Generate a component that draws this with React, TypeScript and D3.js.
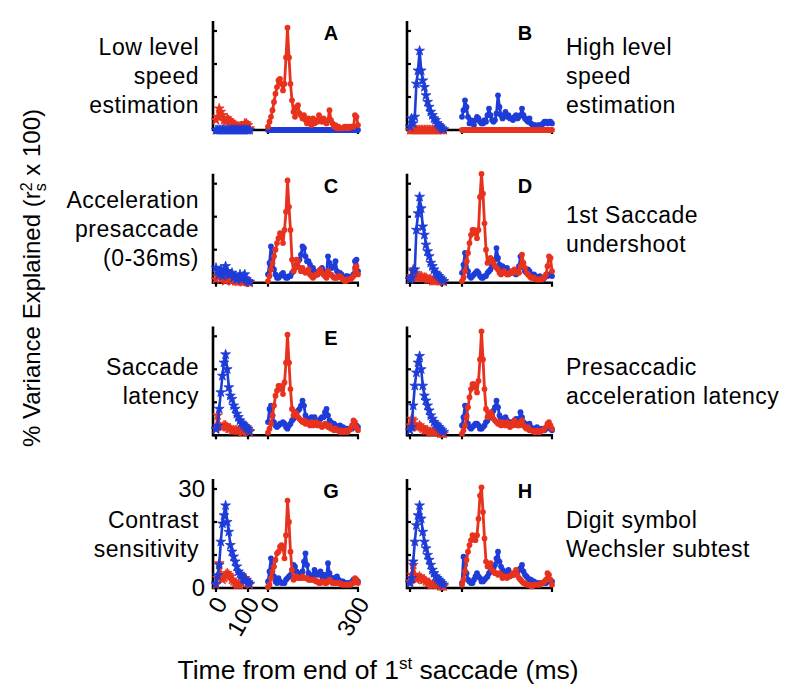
import React from 'react'
import * as d3 from 'd3'

// sample times (ms) of the two segments of every panel
const leftTimes = [0, 5, 10, 15, 20, 25, 30, 35, 40, 45, 50, 55, 60, 65, 70, 75, 80, 85, 90, 95, 100, 105]
const rightTimes = [
  0, 5, 10, 15, 20, 25, 30, 35, 40, 45,
  50, 55, 60, 65, 70, 75, 80, 85, 90, 95,
  100, 105, 110, 115, 120, 125, 130, 135, 140, 145,
  150, 155, 160, 165, 170, 175, 180, 185, 190, 195,
  200, 205, 210, 215, 220, 225, 230, 235, 240, 245,
  250, 255, 260, 265, 270, 275, 280, 285, 290, 295,
  300
]

const zeroStars = [0, 0, 0, 0, 0, 0, 0, 0, 0, 0, 0, 0, 0, 0, 0, 0, 0, 0, 0, 0, 0, 0]
const zeroDots = [
  0, 0, 0, 0, 0, 0, 0, 0, 0, 0,
  0, 0, 0, 0, 0, 0, 0, 0, 0, 0,
  0, 0, 0, 0, 0, 0, 0, 0, 0, 0,
  0, 0, 0, 0, 0, 0, 0, 0, 0, 0,
  0, 0, 0, 0, 0, 0, 0, 0, 0, 0,
  0, 0, 0, 0, 0, 0, 0, 0, 0, 0,
  0
]

// A
const redStarsA = [3, 4, 6.5, 5.5, 4.5, 3, 2.5, 3.5, 3, 2.5, 2, 1.8, 1.5, 1.2, 1, 1, 1.2, 1, 2, 2, 1.5, 0.5]
const redDotsA = [
  1, 2.5, 4, 6, 8.5, 11, 13, 15, 15.5, 14,
  12, 14, 22, 31, 22, 14, 9, 5.5, 4, 7,
  7.5, 5, 4.5, 3.5, 4.5, 3, 2, 3.5, 2.5, 1.5,
  3.5, 2, 3, 2.5, 4.5, 3, 2.5, 3.5, 2.5, 2,
  3, 6, 3, 2, 1, 1.5, 0.5, 1, 0.5, 0.5,
  0.5, 1, 0.5, 1, 0.5, 1, 1, 1, 4.5, 4,
  1.5
]

// B
const blueStarsB = [1, 3.5, 2, 4, 14, 18, 24, 18, 15, 13, 10.5, 8.5, 7, 5.5, 4.5, 3.5, 3, 2, 1.5, 1, 0.5, 0.2]
const blueDotsB = [
  4, 6, 9, 7, 4, 2, 3, 2, 1.5, 3,
  4, 3.5, 2.5, 2, 2, 3, 2.5, 4.5, 6.5, 4.5,
  3, 2.5, 3, 5, 10.5, 7, 4.5, 3.5, 4.5, 5.5,
  4, 4.5, 3.5, 3.5, 3, 4, 4.5, 3.5, 4, 4.5,
  6.5, 4.5, 3.5, 3, 2.5, 3.5, 2, 1.5, 1.5, 1.5,
  1, 1.5, 1.5, 1, 2, 2.5, 2.5, 2, 2.5, 2.5,
  2
]

// C
const redStarsC = [1, 2, 3.5, 2.5, 1.5, 1, 0.5, 1, 1.5, 1, 0.5, 1, 0.5, 0.5, 0.3, 0.5, 0.3, 0.2, 0.5, 0.3, 0.2, 0]
const blueStarsC = [4.5, 3.5, 2.5, 4, 2, 4, 5, 3.5, 2.5, 2.5, 3, 1.5, 2, 1, 1.5, 2.5, 1, 2, 2.5, 1, 0.5, 0.3]
const redDotsC = [
  0.5, 2, 4, 6, 8, 10, 12, 13.5, 15, 14.5,
  12, 16, 21.5, 31, 23, 16, 7, 3.5, 4.5, 7,
  6.5, 4.5, 3.5, 4.5, 3.5, 3, 3.5, 4, 2.5, 2,
  1.5, 2, 2.5, 2.5, 3.5, 4, 3, 2.5, 2, 1.5,
  3.5, 2.5, 2.5, 2, 1.5, 1.5, 1.5, 2, 2, 1.5,
  1, 0.5, 0.5, 1, 1, 1, 1.5, 2, 4.5, 5,
  2.5
]
const blueDotsC = [
  2.5, 6, 11, 7, 4, 2.5, 1.5, 1.5, 2, 2.5,
  3, 2, 1.5, 1.5, 2, 2, 3, 3.5, 4.5, 5.5,
  6.5, 7, 8.5, 11, 10.5, 8, 6.5, 6.5, 5.5, 3.5,
  4.5, 3.5, 2.5, 2.5, 3.5, 4, 4.5, 3.5, 3, 2.5,
  8, 6, 4.5, 4.5, 5, 6.5, 3.5, 2.5, 3, 2.5,
  1.5, 1.5, 2, 2, 1.5, 1.5, 2, 2.5, 6.5, 7,
  3.5
]

// D
const redStarsD = [1, 2, 4, 3, 1.5, 1.5, 2, 2, 1.5, 1.5, 1.5, 1, 1, 1, 0.5, 0.5, 0.5, 1, 1, 0.5, 0.5, 0.3]
const blueStarsD = [1, 1.5, 3.5, 4, 16, 21, 26, 22.5, 17, 14.5, 11.5, 9.5, 8, 6, 5, 4, 3, 2.5, 2, 1.5, 1, 0.5]
const redDotsD = [
  0.5, 1.5, 3.5, 6.5, 9, 12, 14.5, 16, 16, 15,
  13.5, 16, 26, 33, 27, 18, 10, 6, 6.5, 7.5,
  7, 6, 5, 4.5, 4, 3, 2.5, 3, 3.5, 3,
  2.5, 2.5, 3, 3.5, 3, 4, 3.5, 3, 3, 5,
  8.5, 6, 4.5, 3, 2.5, 2, 1.5, 1.5, 1.5, 1,
  1, 1, 1, 1, 1.5, 1.5, 2.5, 5, 8, 7.5,
  3.5
]
const blueDotsD = [
  3, 5.5, 9, 6.5, 3.5, 2, 1.5, 2, 2.5, 3,
  3.5, 3, 2, 1.5, 1.5, 2, 2, 3, 3.5, 4,
  5, 5.5, 7, 10.5, 7.5, 5.5, 4.5, 5, 4.5, 4,
  4.5, 3.5, 3, 3, 3.5, 3, 2.5, 3.5, 5, 8,
  6, 4.5, 3.5, 3, 4, 3.5, 2.5, 2, 2.5, 2,
  1.5, 1.5, 2, 1.5, 1, 1.5, 2, 2, 2.5, 2.5,
  2
]

// E
const redStarsE = [2, 6, 3, 2.5, 2.5, 3, 3, 2.5, 2, 2, 1.5, 1.5, 1.5, 1.5, 1.5, 1.5, 1, 1, 1.5, 2.5, 2, 1]
const blueStarsE = [1.8, 2.8, 8, 13, 18, 22, 24.5, 20, 14.5, 12, 11, 9, 8, 6.5, 5.5, 4.5, 3.8, 3.3, 2.8, 2.3, 1.8, 1.3]
const redDotsE = [
  0.8, 2, 3.5, 6, 9, 12, 13.5, 15, 15, 14,
  12.5, 16, 22, 30.5, 22, 14, 8, 6, 7, 6.5,
  5.5, 5, 4.5, 4, 4.5, 3.5, 4, 3.5, 3, 4,
  3, 3.5, 4, 3, 3.5, 3, 2.5, 3, 3.5, 3,
  2.5, 3, 2, 2, 1.5, 2, 1.5, 1.5, 1, 1.5,
  1, 1, 1.5, 1, 1.5, 2, 3, 4.5, 4, 2.5,
  1.5
]
const blueDotsE = [
  4, 8, 9, 6, 4, 3, 2.5, 3, 3.5, 3.5,
  4, 3.5, 2.5, 2, 3, 3.5, 4.5, 5, 6.5, 7,
  7.5, 8, 9, 10.5, 9, 6, 5, 5, 5, 5.5,
  5, 5.5, 4, 4, 4.5, 5, 5.5, 5.5, 7, 8,
  6, 4.5, 4, 3.5, 3.5, 3, 2.5, 2.5, 3, 2.5,
  2.5, 2, 2, 2, 2, 2, 2, 2.5, 3, 3,
  2.5
]

// F
const redStarsF = [3, 5, 4.5, 3, 2.5, 2.5, 3, 2.5, 2, 1.5, 1.5, 1.5, 1, 1, 1, 1, 1.5, 1.5, 1, 0.5, 0.5, 0.5]
const blueStarsF = [1.5, 2.5, 9, 15, 19, 22, 24, 20, 15, 12, 10.5, 9, 7.5, 6, 5, 4, 3.5, 3, 2.5, 2, 1.5, 1]
const redDotsF = [
  0.5, 1.5, 3, 5.5, 8.5, 11.5, 14, 15.5, 15.5, 14.5,
  13, 16.5, 23, 31.5, 23, 14, 8, 5.5, 6.5, 7,
  6, 5, 4.5, 4, 3.5, 4, 3, 4, 3.5, 3,
  4, 3, 2.5, 3.5, 3, 4.5, 3.5, 3, 3, 4,
  4.5, 3, 2.5, 2, 2.5, 1.5, 1.5, 1.5, 1, 1,
  1.5, 1, 1, 1.5, 1.5, 2, 2.5, 3.5, 4, 3,
  2
]
const blueDotsF = [
  3, 5.5, 9, 6, 3.5, 2.5, 2, 2.5, 3, 3.5,
  3.5, 3, 2, 2, 2.5, 3, 4, 4.5, 5.5, 6.5,
  6.5, 7.5, 8.5, 10.5, 8.5, 6, 5, 4.5, 5, 5.5,
  4.5, 4, 4, 3.5, 4, 4.5, 5, 4.5, 5, 7,
  5.5, 4, 3.5, 3, 3, 3.5, 2.5, 2, 2, 2,
  2.5, 1.5, 1.5, 2, 1.5, 1.5, 2, 2.5, 2.5, 2,
  1.5
]

// G
const redStarsG = [1, 3, 7.5, 4, 2.5, 3, 4, 4.5, 4, 3.5, 2.5, 2, 1.5, 1, 1, 1, 1.5, 2.5, 3, 2.5, 1.5, 1]
const blueStarsG = [1.3, 3.8, 7, 14, 19.5, 22, 25, 20, 17, 13, 11, 9.5, 8, 6.5, 5, 4.3, 3.8, 2.8, 2.5, 2.3, 1.8, 1.3]
const redDotsG = [
  0.3, 1, 3, 5, 6.5, 8.5, 10.5, 11, 12.5, 13,
  12, 9, 16, 26.5, 20, 11, 5.5, 2.5, 3, 3.5,
  3, 3, 3, 3.5, 3, 3, 3, 2.5, 2.5, 2.5,
  2.5, 2.5, 2, 2, 1.5, 1.5, 2, 2, 1.5, 1.5,
  2, 2.5, 2, 1.5, 1.5, 1.5, 1.5, 1.5, 1.5, 1,
  1, 1, 1, 1, 1, 1, 1.5, 1.5, 3, 2.5,
  1.5
]
const blueDotsG = [
  2, 5, 9, 6, 3.5, 2, 1.5, 3, 2, 1.5,
  1.5, 1.5, 2.5, 3, 3.5, 4, 5.5, 7, 6.5, 5,
  4.5, 4, 4, 5, 8, 10.5, 7, 4.5, 3.5, 3,
  4, 5.5, 4.5, 4, 4.5, 5, 3.5, 4, 4, 3,
  7.5, 4.5, 3, 3, 3, 3, 3.5, 2.5, 2, 2,
  2, 1.5, 1.5, 1.5, 1.5, 1.5, 2, 2.5, 2, 2,
  2
]

// H
const redStarsH = [2, 4, 7, 4, 2.5, 3, 3.5, 3, 2.5, 2.5, 2, 1.5, 1.5, 1, 1, 1, 1.5, 1, 1, 0.5, 0.5, 0.5]
const blueStarsH = [1.5, 3, 8, 14, 19, 22, 25, 21, 17, 14, 12, 10, 8.5, 7, 5.5, 4.5, 3.5, 3, 2.5, 2, 1.5, 1]
const redDotsH = [
  1, 2.5, 5, 8.5, 11, 13, 14.5, 16, 15.5, 14.5,
  16, 21, 28, 30.5, 23, 15, 8, 6.5, 7, 7.5,
  5.5, 5, 4.5, 4.5, 4, 4.5, 4, 3, 3.5, 3.5,
  3, 3.5, 3.5, 4, 4.5, 4, 5.5, 4, 3, 2.5,
  2, 1.5, 1.5, 1, 1, 1, 0.5, 0.5, 1, 1,
  1, 1, 1, 1.5, 1.5, 2, 2.5, 4.5, 4, 2.5,
  1
]
const blueDotsH = [
  1.5, 9.5, 7, 4.5, 2.5, 2, 1.5, 1.5, 2.5, 3.5,
  4.5, 3.5, 3, 2, 2, 2.5, 3, 3.5, 4.5, 5,
  5.5, 6, 7, 9, 11, 8, 6.5, 5.5, 5, 4.5,
  5, 5.5, 4.5, 4, 4, 4.5, 4.5, 5, 5.5, 6,
  7, 5, 4, 3.5, 3, 2.5, 2.5, 2, 2, 1.5,
  1.5, 1.5, 1.5, 1.5, 1.5, 1.5, 1.5, 2, 2, 2,
  2
]

const panelLetters = ['A', 'B', 'C', 'D', 'E', '', 'G', 'H']
const leftLabels = [
  ['Low level', 'speed', 'estimation'],
  ['Acceleration', 'presaccade', '(0-36ms)'],
  ['Saccade', 'latency'],
  ['Contrast', 'sensitivity']
]
const rightLabels = [
  ['High level', 'speed', 'estimation'],
  ['1st Saccade', 'undershoot'],
  ['Presaccadic', 'acceleration latency'],
  ['Digit symbol', 'Wechsler subtest']
]
const yTicks = [0, 10, 20, 30]
const yTickLabels = [0, 30]
const leftTicks = [0, 100]
const rightTicks = [0, 300]

const RED = '#e8321e'
const BLUE = '#1e3cd7'
const FONT = '"Liberation Sans", Arial, Helvetica, sans-serif'

const colX = [213, 407]
const rowY = [130, 282.7, 435.3, 588]

type PanelDef = {
  letter: string
  col: number
  row: number
  redStars: number[]
  blueStars: number[]
  redDots: number[]
  blueDots: number[]
}

const panels: PanelDef[] = [
  { letter: panelLetters[0], col: 0, row: 0, redStars: redStarsA, blueStars: zeroStars, redDots: redDotsA, blueDots: zeroDots },
  { letter: panelLetters[1], col: 1, row: 0, redStars: zeroStars, blueStars: blueStarsB, redDots: zeroDots, blueDots: blueDotsB },
  { letter: panelLetters[2], col: 0, row: 1, redStars: redStarsC, blueStars: blueStarsC, redDots: redDotsC, blueDots: blueDotsC },
  { letter: panelLetters[3], col: 1, row: 1, redStars: redStarsD, blueStars: blueStarsD, redDots: redDotsD, blueDots: blueDotsD },
  { letter: panelLetters[4], col: 0, row: 2, redStars: redStarsE, blueStars: blueStarsE, redDots: redDotsE, blueDots: blueDotsE },
  { letter: panelLetters[5], col: 1, row: 2, redStars: redStarsF, blueStars: blueStarsF, redDots: redDotsF, blueDots: blueDotsF },
  { letter: panelLetters[6], col: 0, row: 3, redStars: redStarsG, blueStars: blueStarsG, redDots: redDotsG, blueDots: blueDotsG },
  { letter: panelLetters[7], col: 1, row: 3, redStars: redStarsH, blueStars: blueStarsH, redDots: redDotsH, blueDots: blueDotsH }
]

const starPath = d3.symbol().type(d3.symbolStar).size(30)() || ''

const Panel = ({ p, withLabels }: { p: PanelDef; withLabels: boolean }) => {
  const ax = colX[p.col]
  const y0 = rowY[p.row]
  const y = d3.scaleLinear().domain([0, 30]).range([y0, y0 - 99])
  const xl = d3.scaleLinear().domain([0, 100]).range([ax + 3, ax + 35])
  const xr = d3.scaleLinear().domain([0, 300]).range([ax + 55, ax + 145])

  const lineL = d3.line<number>().x((_, i) => xl(leftTimes[i])).y(d => y(d))
  const lineR = d3.line<number>().x((_, i) => xr(rightTimes[i])).y(d => y(d))

  const stars = (vals: number[], color: string) => (
    <g>
      <path d={lineL(vals) || ''} fill='none' stroke={color} strokeWidth={2.6} strokeLinejoin='round' />
      {vals.map((v, i) => (
        <path key={i} d={starPath} transform={`translate(${xl(leftTimes[i])},${y(v)})`} fill={color} stroke={color} strokeWidth={0.8} />
      ))}
    </g>
  )
  const dots = (vals: number[], color: string) => (
    <g>
      <path d={lineR(vals) || ''} fill='none' stroke={color} strokeWidth={2.8} strokeLinejoin='round' />
      {vals.map((v, i) => (
        <circle key={i} cx={xr(rightTimes[i])} cy={y(v)} r={2.9} fill={color} />
      ))}
    </g>
  )

  const xTickPos = [...leftTicks.map(t => xl(t)), ...rightTicks.map(t => xr(t))]
  const xTickText = [...leftTicks, ...rightTicks]

  return (
    <g>
      {/* axes */}
      <path d={`M${ax},${y(33)}V${y0}H${ax + 146}`} fill='none' stroke='#000' strokeWidth={2.6} />
      {yTicks.map(t => (
        <line key={`yt${t}`} x1={ax} x2={ax + 4} y1={y(t)} y2={y(t)} stroke='#000' strokeWidth={2.2} />
      ))}
      {xTickPos.map((x, i) => (
        <line key={`xt${i}`} x1={x} x2={x} y1={y0} y2={y0 + 4} stroke='#000' strokeWidth={2.2} />
      ))}

      {stars(p.redStars, RED)}
      {stars(p.blueStars, BLUE)}
      {dots(p.blueDots, BLUE)}
      {dots(p.redDots, RED)}

      <text x={ax + 118} y={y0 - 90} textAnchor='middle' fontWeight='bold' fontSize={20}>{p.letter}</text>

      {withLabels && (
        <g fontSize={24}>
          {yTickLabels.map(t => (
            <text key={`yl${t}`} x={ax - 8} y={y(t)} dy='0.35em' textAnchor='end'>{t}</text>
          ))}
          {xTickPos.map((x, i) => (
            <text key={`xl${i}`} transform={`translate(${x + 5},${y0 + 11}) rotate(-60)`} dy='0.35em' textAnchor='end'>
              {xTickText[i]}
            </text>
          ))}
        </g>
      )}
    </g>
  )
}

const RowLabels = ({ lines, row, side }: { lines: string[]; row: number; side: 'left' | 'right' }) => {
  const y0 = rowY[row]
  const offsets = lines.length === 3 ? [-75, -46, -17] : [-60, -31]
  const x = side === 'left' ? 199 : 566
  return (
    <g fontSize={23} letterSpacing={0.5} textAnchor={side === 'left' ? 'end' : 'start'}>
      {lines.map((l, i) => (
        <text key={i} x={x} y={y0 + offsets[i]}>{l}</text>
      ))}
    </g>
  )
}

const App = () => {
  return (
    <svg
      width={800}
      height={697}
      viewBox='0 0 800 697'
      style={{ position: 'absolute', left: 0, top: 0, background: '#fff' }}
      fontFamily={FONT}
    >
      <rect width={800} height={697} fill='#fff' />
      {panels.map((p, i) => (
        <Panel key={i} p={p} withLabels={p.col === 0 && p.row === 3} />
      ))}
      {leftLabels.map((lines, r) => (
        <RowLabels key={`l${r}`} lines={lines} row={r} side='left' />
      ))}
      {rightLabels.map((lines, r) => (
        <RowLabels key={`r${r}`} lines={lines} row={r} side='right' />
      ))}

      <text transform='translate(40,278) rotate(-90)' textAnchor='middle' fontSize={24}>
        % Variance Explained (r
        <tspan fontSize={16} dy={6}>s</tspan>
        <tspan fontSize={16} dx={-8} dy={-14}>2</tspan>
        <tspan dy={8}> x 100)</tspan>
      </text>

      <text x={378} y={679} textAnchor='middle' fontSize={26.5}>
        Time from end of 1
        <tspan fontSize={17} dy={-10}>st</tspan>
        <tspan dy={10}> saccade (ms)</tspan>
      </text>
    </svg>
  )
}

export default App
